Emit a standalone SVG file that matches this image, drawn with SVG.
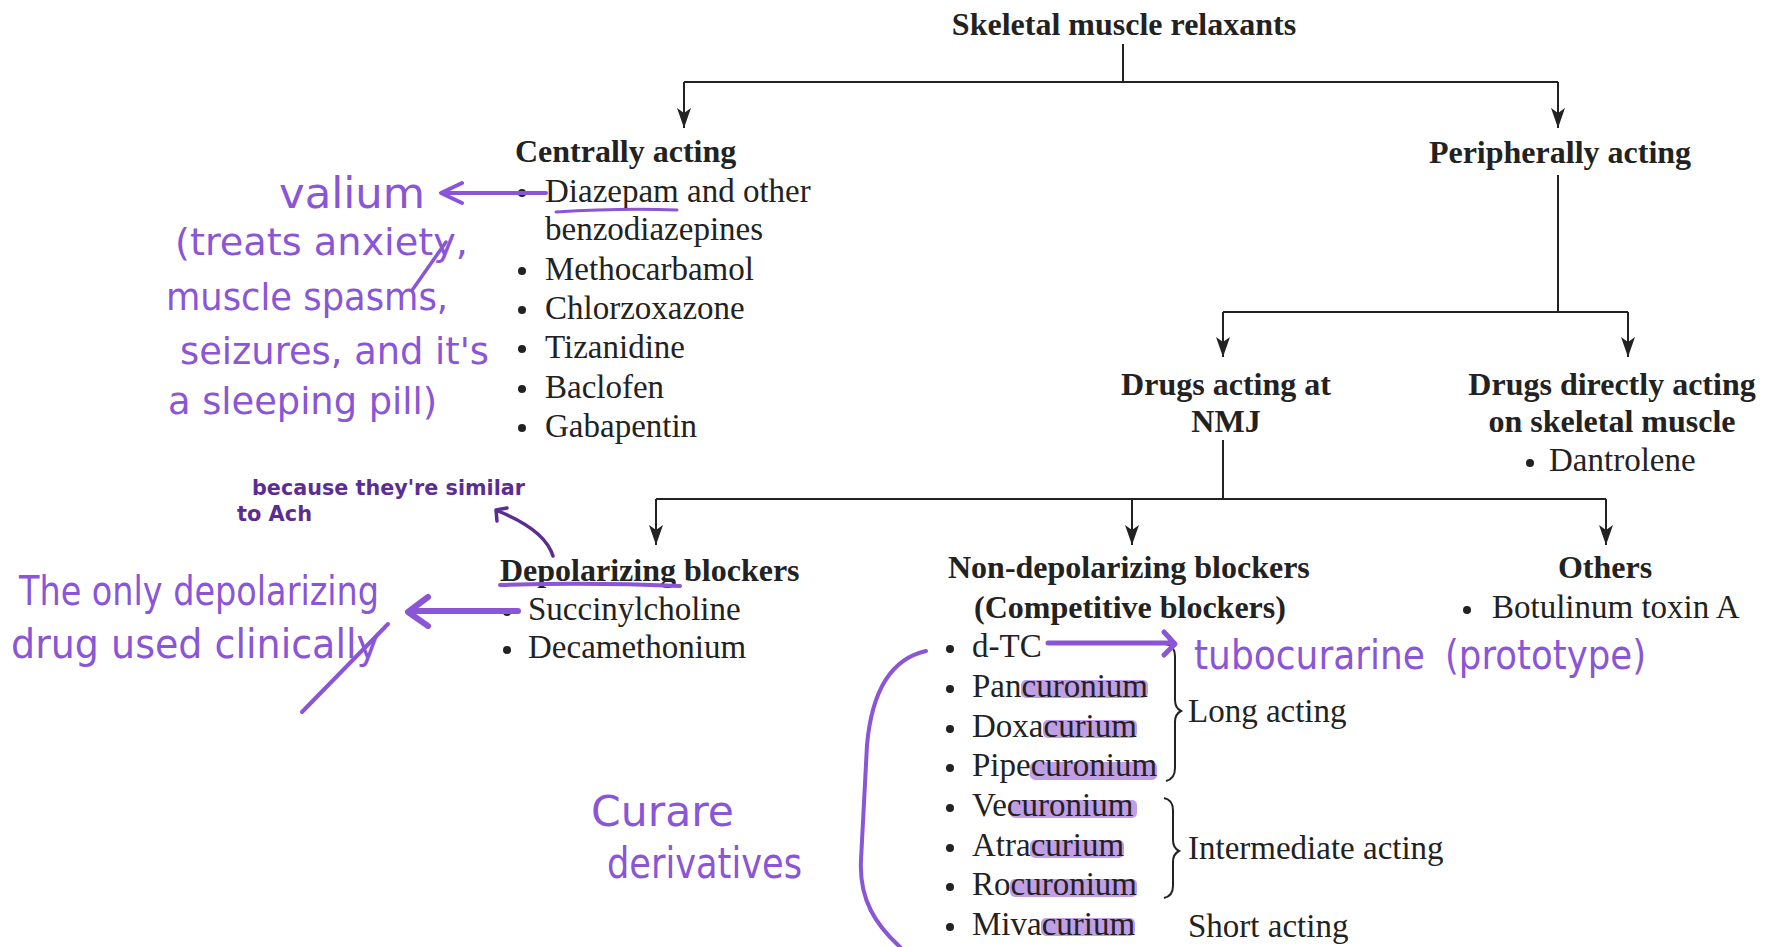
<svg xmlns="http://www.w3.org/2000/svg" width="1765" height="947" viewBox="0 0 1765 947">
<defs>
<marker id="ah" viewBox="0 0 20 14" refX="20" refY="7" markerWidth="20" markerHeight="14" markerUnits="userSpaceOnUse" orient="auto">
<path d="M0,0 L20,7 L0,14 L5,7 z" fill="#222"/>
</marker>
</defs>
<style>
text{font-family:"Liberation Serif","Times New Roman",serif;fill:#222}
.b{font-weight:bold;font-size:32px}
.r{font-size:33px}
.c{text-anchor:middle}
.ln{fill:none;stroke:#222;stroke-width:2}
.dot{fill:#222}
.hl{fill:#b68ee0;opacity:0.85}
.hw{font-family:"DejaVu Sans","Liberation Sans",sans-serif;fill:#8a55d6}
.hw2{font-family:"DejaVu Sans","Liberation Sans",sans-serif;fill:#5b2d93;font-weight:bold}
.pen{fill:none;stroke:#8a55d6;stroke-linecap:round;stroke-linejoin:round}
.pen2{fill:none;stroke:#5b2d93;stroke-linecap:round;stroke-linejoin:round}
.brace{fill:none;stroke:#222;stroke-width:2}
</style>
<rect width="1765" height="947" fill="#fff"/>

<g id="connectors">
<path class="ln" d="M1123 44 V82"/>
<path class="ln" d="M684 82 H1558"/>
<path class="ln" d="M684 82 V128" marker-end="url(#ah)"/>
<path class="ln" d="M1558 82 V128" marker-end="url(#ah)"/>
<path class="ln" d="M1558 175 V312"/>
<path class="ln" d="M1223 312 H1628"/>
<path class="ln" d="M1223 312 V357" marker-end="url(#ah)"/>
<path class="ln" d="M1628 312 V357" marker-end="url(#ah)"/>
<path class="ln" d="M1223 440 V499"/>
<path class="ln" d="M656 499 H1606"/>
<path class="ln" d="M656 499 V545" marker-end="url(#ah)"/>
<path class="ln" d="M1132 499 V545" marker-end="url(#ah)"/>
<path class="ln" d="M1606 499 V545" marker-end="url(#ah)"/>
</g>

<g id="root">
<text class="b c" x="1124" y="35">Skeletal muscle relaxants</text>
</g>

<g id="central">
<text class="b" x="515" y="162">Centrally acting</text>
<circle class="dot" cx="522" cy="193" r="4"/>
<text class="r" x="545" y="202">Diazepam and other</text>
<text class="r" x="545" y="240">benzodiazepines</text>
<circle class="dot" cx="522" cy="271" r="4"/>
<text class="r" x="545" y="280">Methocarbamol</text>
<circle class="dot" cx="522" cy="310" r="4"/>
<text class="r" x="545" y="319">Chlorzoxazone</text>
<circle class="dot" cx="522" cy="349" r="4"/>
<text class="r" x="545" y="358">Tizanidine</text>
<circle class="dot" cx="522" cy="389" r="4"/>
<text class="r" x="545" y="398">Baclofen</text>
<circle class="dot" cx="522" cy="428" r="4"/>
<text class="r" x="545" y="437">Gabapentin</text>
</g>

<g id="peripheral">
<text class="b c" x="1560" y="163">Peripherally acting</text>
</g>

<g id="nmj">
<text class="b c" x="1226" y="395">Drugs acting at</text>
<text class="b c" x="1226" y="432">NMJ</text>
</g>

<g id="direct">
<text class="b c" x="1612" y="395">Drugs directly acting</text>
<text class="b c" x="1612" y="432">on skeletal muscle</text>
<circle class="dot" cx="1530" cy="463" r="4"/>
<text class="r" x="1549" y="471">Dantrolene</text>
</g>

<g id="depolarizing">
<text class="b" x="500" y="581">Depolarizing blockers</text>
<circle class="dot" cx="507" cy="612" r="4"/>
<text class="r" x="528" y="620">Succinylcholine</text>
<circle class="dot" cx="507" cy="650" r="4"/>
<text class="r" x="528" y="658">Decamethonium</text>
</g>

<g id="nondepolarizing">
<rect class="hl" x="1021" y="680" width="127" height="18" rx="5"/>
<rect class="hl" x="1043" y="720" width="94" height="18" rx="5"/>
<rect class="hl" x="1030" y="762" width="127" height="18" rx="5"/>
<rect class="hl" x="1010" y="800" width="127" height="18" rx="5"/>
<rect class="hl" x="1030" y="840" width="94" height="18" rx="5"/>
<rect class="hl" x="1010" y="879" width="127" height="18" rx="5"/>
<rect class="hl" x="1041" y="918" width="94" height="18" rx="5"/>
<text class="b" x="948" y="578">Non-depolarizing blockers</text>
<text class="b" x="974" y="618">(Competitive blockers)</text>
<circle class="dot" cx="950" cy="649" r="4"/>
<text class="r" x="972" y="657">d-TC</text>
<circle class="dot" cx="950" cy="689" r="4"/>
<text class="r" x="972" y="697">Pancuronium</text>
<circle class="dot" cx="950" cy="729" r="4"/>
<text class="r" x="972" y="737">Doxacurium</text>
<circle class="dot" cx="950" cy="768" r="4"/>
<text class="r" x="972" y="776">Pipecuronium</text>
<circle class="dot" cx="950" cy="808" r="4"/>
<text class="r" x="972" y="816">Vecuronium</text>
<circle class="dot" cx="950" cy="848" r="4"/>
<text class="r" x="972" y="856">Atracurium</text>
<circle class="dot" cx="950" cy="887" r="4"/>
<text class="r" x="972" y="895">Rocuronium</text>
<circle class="dot" cx="950" cy="927" r="4"/>
<text class="r" x="972" y="935">Mivacurium</text>
<path class="brace" d="M1166 644 Q1175 646 1175 656 L1175 700 Q1175 708 1181 711 Q1175 714 1175 722 L1175 768 Q1175 779 1166 781"/>
<path class="brace" d="M1164 798 Q1173 800 1173 810 L1173 840 Q1173 848 1179 851 Q1173 854 1173 862 L1173 886 Q1173 896 1164 898"/>
<text class="r" x="1188" y="722">Long acting</text>
<text class="r" x="1188" y="859">Intermediate acting</text>
<text class="r" x="1188" y="937">Short acting</text>
</g>

<g id="others">
<text class="b c" x="1605" y="578">Others</text>
<circle class="dot" cx="1467" cy="610" r="4"/>
<text class="r" x="1492" y="618">Botulinum toxin A</text>
</g>

<g id="annotations">
<path class="pen" stroke-width="4" d="M546 193 H442 M462 183 L441 193 L462 203"/>
<path class="pen" stroke-width="3" d="M556 212 Q620 208 677 210"/>
<text class="hw" x="279" y="208" font-size="42" textLength="146" lengthAdjust="spacingAndGlyphs">valium</text>
<text class="hw" x="175" y="255" font-size="38" textLength="293" lengthAdjust="spacingAndGlyphs">(treats anxiety,</text>
<path class="pen" stroke-width="3.5" d="M446 242 L413 289"/>
<text class="hw" x="166" y="310" font-size="38" textLength="282" lengthAdjust="spacingAndGlyphs">muscle spasms,</text>
<text class="hw" x="180" y="364" font-size="38" textLength="309" lengthAdjust="spacingAndGlyphs">seizures, and it's</text>
<text class="hw" x="168" y="414" font-size="38" textLength="269" lengthAdjust="spacingAndGlyphs">a sleeping pill)</text>

<text class="hw2" x="252" y="495" font-size="22" textLength="273" lengthAdjust="spacingAndGlyphs">because they're similar</text>
<text class="hw2" x="237" y="521" font-size="22" textLength="75" lengthAdjust="spacingAndGlyphs">to Ach</text>
<path class="pen2" stroke-width="3.5" d="M553 556 Q545 530 498 511 M497 521 L496 510 L507 508"/>
<path class="pen" stroke-width="4" d="M500 585 Q590 582 680 586"/>

<path class="pen" stroke-width="6" d="M518 611 H410 M428 597 L408 612 L428 626"/>
<text class="hw" x="19" y="605" font-size="40" textLength="360" lengthAdjust="spacingAndGlyphs">The only depolarizing</text>
<text class="hw" x="11" y="658" font-size="40" textLength="368" lengthAdjust="spacingAndGlyphs">drug used clinically</text>
<path class="pen" stroke-width="4" d="M388 624 L302 712"/>

<text class="hw" x="591" y="826" font-size="42" textLength="143" lengthAdjust="spacingAndGlyphs">Curare</text>
<text class="hw" x="607" y="878" font-size="42" textLength="195" lengthAdjust="spacingAndGlyphs">derivatives</text>
<path class="pen" stroke-width="4" d="M926 651 C886 660 871 700 867 745 L861 860 C859 900 876 925 900 947"/>

<path class="pen" stroke-width="5" d="M1048 643 H1172 M1164 632 L1175 644 L1164 655"/>
<text class="hw" x="1194" y="669" font-size="40" textLength="231" lengthAdjust="spacingAndGlyphs">tubocurarine</text>
<text class="hw" x="1445" y="669" font-size="40" textLength="201" lengthAdjust="spacingAndGlyphs">(prototype)</text>
</g>
</svg>
